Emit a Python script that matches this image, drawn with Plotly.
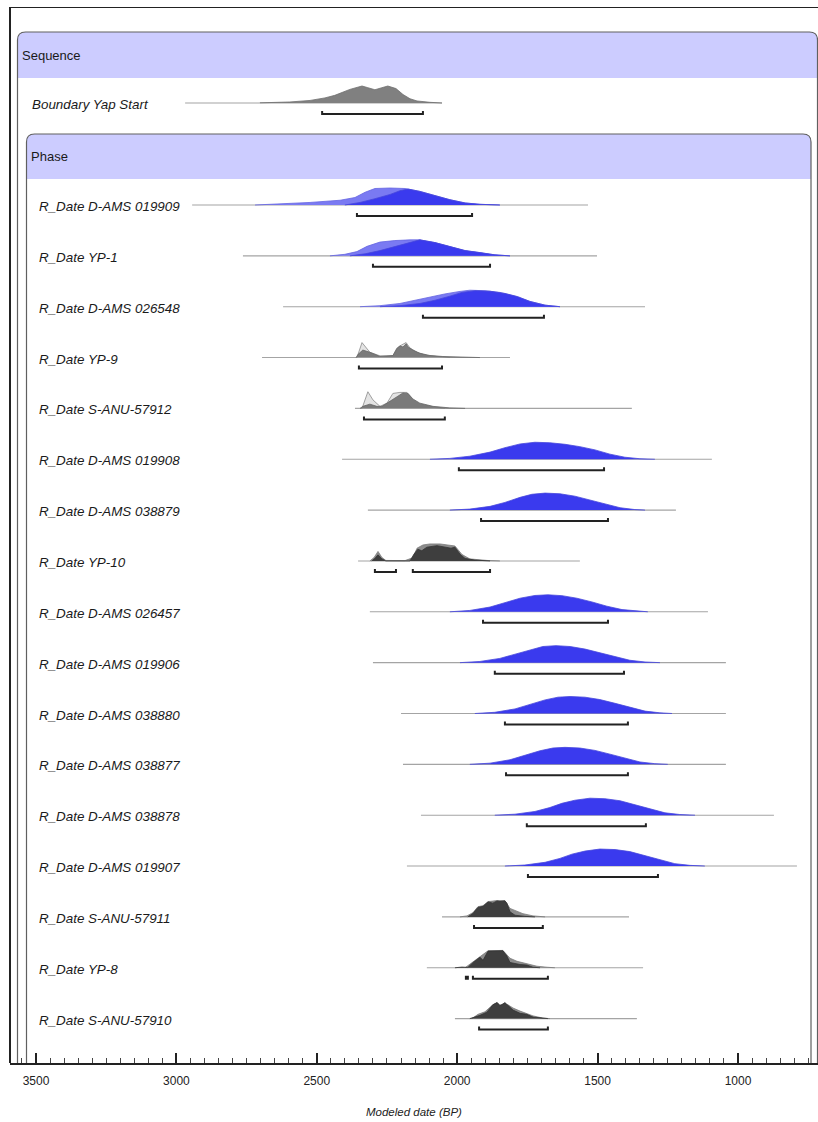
import plotly.graph_objects as go

# ---------------- data (years BP, relative probability) ----------------
labels = [
    "Boundary Yap Start",
    "R_Date D-AMS 019909", "R_Date YP-1", "R_Date D-AMS 026548", "R_Date YP-9",
    "R_Date S-ANU-57912", "R_Date D-AMS 019908", "R_Date D-AMS 038879", "R_Date YP-10",
    "R_Date D-AMS 026457", "R_Date D-AMS 019906", "R_Date D-AMS 038880", "R_Date D-AMS 038877",
    "R_Date D-AMS 038878", "R_Date D-AMS 019907", "R_Date S-ANU-57911", "R_Date YP-8",
    "R_Date S-ANU-57910",
]
kinds = ["boundary", "blue", "blue", "blue", "pale", "pale", "blue", "blue", "dark",
         "blue", "blue", "blue", "blue", "blue", "blue", "dark", "dark", "dark"]

tail_from = [2969, 2944, 2763, 2620, 2695, 2364, 2410, 2318, 2353,
             2311, 2300, 2200, 2193, 2129, 2179, 2054, 2108, 2008]
tail_to = [2054, 1534, 1502, 1331, 1812, 1378, 1093, 1221, 1563,
           1107, 1043, 1043, 1043, 872, 790, 1388, 1338, 1360]

# 95.4% ranges
ranges = [
    [(2481, 2122)], [(2357, 1947)], [(2300, 1883)], [(2122, 1691)], [(2350, 2054)],
    [(2332, 2044)], [(1994, 1477)], [(1915, 1463)], [(2293, 2218), (2158, 1883)],
    [(1908, 1463)], [(1866, 1406)], [(1830, 1392)], [(1826, 1392)], [(1752, 1328)],
    [(1748, 1285)], [(1940, 1695)], [(1969, 1962), (1944, 1677)], [(1922, 1677)],
]

# unmodelled likelihoods (None where not drawn)
unmod_years = [
    None,
    [2720, 2631, 2524, 2417, 2364, 2328, 2293, 2239, 2186, 2133, 2079, 2026, 1972, 1919, 1848],
    [2453, 2400, 2357, 2321, 2275, 2222, 2168, 2133, 2079, 2026, 1972, 1919, 1866, 1812],
    [2346, 2275, 2204, 2150, 2097, 2044, 1990, 1955, 1901, 1848, 1794, 1741, 1687, 1634],
    [2357, 2339, 2311, 2275, 2229, 2215, 2197, 2182, 2168, 2143, 2108, 2061, 2026],
    [2339, 2318, 2300, 2275, 2250, 2229, 2204, 2179, 2158, 2133, 2086, 2044],
    None, None,
    [2311, 2296, 2282, 2268, 2254, 2186, 2158, 2143, 2122, 2097, 2061, 2033, 2008, 1983, 1955, 1894, 1848],
    None, None, None, None, None, None,
    [1990, 1965, 1944, 1926, 1908, 1890, 1858, 1830, 1812, 1787, 1766, 1730, 1687],
    [1972, 1944, 1919, 1890, 1837, 1812, 1787, 1752, 1716, 1680, 1652],
    [1947, 1926, 1901, 1873, 1858, 1848, 1819, 1801, 1776, 1752, 1730, 1695, 1670],
]
unmod_prob = [
    None,
    [0, 0.06, 0.15, 0.28, 0.44, 0.75, 0.97, 1.0, 0.97, 0.8, 0.56, 0.31, 0.12, 0.04, 0],
    [0, 0.09, 0.25, 0.56, 0.81, 0.9, 0.94, 0.94, 0.78, 0.56, 0.31, 0.19, 0.06, 0],
    [0, 0.06, 0.19, 0.38, 0.59, 0.75, 0.9, 0.97, 0.94, 0.84, 0.62, 0.31, 0.09, 0],
    [0, 0.88, 0.31, 0.1, 0.1, 0.56, 0.75, 0.88, 0.56, 0.31, 0.12, 0.03, 0],
    [0, 0.98, 0.5, 0.12, 0.31, 0.88, 0.94, 0.94, 0.5, 0.25, 0.06, 0],
    None, None,
    [0, 0.2, 0.56, 0.2, 0.03, 0.02, 0.19, 0.75, 0.94, 1.0, 1.0, 0.94, 0.88, 0.38, 0.12, 0.03, 0],
    None, None, None, None, None, None,
    [0, 0.06, 0.25, 0.6, 0.66, 0.9, 0.96, 0.96, 0.5, 0.31, 0.19, 0.06, 0],
    [0, 0.35, 0.65, 1.0, 1.02, 0.56, 0.38, 0.25, 0.09, 0.03, 0],
    [0, 0.25, 0.4, 0.82, 0.94, 0.81, 0.81, 0.62, 0.44, 0.31, 0.16, 0.03, 0],
]

# modelled posteriors
mod_years = [
    [2702, 2596, 2524, 2471, 2436, 2382, 2339, 2318, 2293, 2268, 2247, 2218, 2193, 2168, 2143, 2097, 2054],
    [2400, 2346, 2293, 2239, 2204, 2175, 2133, 2079, 2026, 1972, 1919, 1848],
    [2382, 2328, 2275, 2222, 2168, 2133, 2079, 2026, 1972, 1919, 1866, 1812],
    [2275, 2204, 2133, 2079, 2026, 1983, 1937, 1883, 1830, 1784, 1741, 1687, 1634],
    [2360, 2353, 2336, 2311, 2275, 2229, 2215, 2204, 2193, 2182, 2175, 2158, 2133, 2097, 2051, 1965, 1919],
    [2346, 2336, 2311, 2286, 2268, 2239, 2215, 2193, 2175, 2158, 2133, 2086, 2026, 1972],
    [2097, 2026, 1955, 1883, 1830, 1776, 1723, 1670, 1616, 1563, 1509, 1456, 1403, 1349, 1296],
    [2026, 1955, 1883, 1830, 1776, 1734, 1687, 1634, 1581, 1527, 1474, 1420, 1367, 1331],
    [2304, 2293, 2282, 2268, 2254, 2168, 2154, 2140, 2126, 2108, 2072, 2036, 2022, 2008, 1990, 1972, 1937, 1883],
    [2026, 1955, 1883, 1830, 1776, 1723, 1677, 1627, 1574, 1520, 1467, 1413, 1360, 1321],
    [1990, 1919, 1848, 1794, 1741, 1695, 1648, 1598, 1545, 1492, 1438, 1385, 1331, 1278],
    [1937, 1866, 1794, 1741, 1687, 1641, 1598, 1545, 1492, 1438, 1385, 1331, 1278, 1235],
    [1955, 1883, 1812, 1759, 1705, 1659, 1616, 1563, 1509, 1456, 1403, 1349, 1296, 1250],
    [1866, 1794, 1723, 1670, 1627, 1581, 1527, 1474, 1420, 1367, 1314, 1260, 1207, 1153],
    [1830, 1759, 1687, 1634, 1591, 1545, 1492, 1438, 1385, 1331, 1278, 1225, 1171, 1118],
    [1962, 1944, 1926, 1908, 1890, 1873, 1858, 1848, 1830, 1823, 1812, 1794, 1759, 1723],
    [2008, 1983, 1962, 1944, 1919, 1908, 1890, 1858, 1837, 1823, 1812, 1776, 1752, 1730, 1705],
    [1955, 1926, 1919, 1894, 1873, 1858, 1848, 1830, 1819, 1801, 1776, 1752, 1730, 1705, 1677],
]
mod_prob = [
    [0.01, 0.06, 0.15, 0.3, 0.45, 0.8, 1.0, 0.9, 0.78, 0.9, 1.0, 0.85, 0.5, 0.25, 0.12, 0.04, 0],
    [0, 0.15, 0.37, 0.62, 0.84, 0.94, 0.8, 0.56, 0.31, 0.12, 0.04, 0],
    [0, 0.12, 0.31, 0.56, 0.81, 0.94, 0.78, 0.56, 0.31, 0.19, 0.06, 0],
    [0, 0.06, 0.19, 0.38, 0.62, 0.84, 0.94, 0.91, 0.78, 0.59, 0.31, 0.09, 0],
    [0, 0.19, 0.44, 0.31, 0.06, 0.12, 0.5, 0.69, 0.62, 0.81, 0.62, 0.44, 0.25, 0.12, 0.06, 0.02, 0],
    [0, 0.12, 0.25, 0.12, 0.12, 0.44, 0.69, 0.91, 0.88, 0.56, 0.31, 0.12, 0.03, 0],
    [0, 0.05, 0.18, 0.42, 0.68, 0.9, 1.0, 0.97, 0.88, 0.74, 0.55, 0.3, 0.12, 0.03, 0],
    [0, 0.06, 0.22, 0.45, 0.75, 0.93, 1.0, 0.96, 0.82, 0.6, 0.35, 0.14, 0.03, 0],
    [0, 0.15, 0.36, 0.12, 0, 0, 0.4, 0.69, 0.6, 0.81, 0.9, 0.81, 0.75, 0.81, 0.4, 0.15, 0.05, 0],
    [0, 0.08, 0.28, 0.52, 0.8, 0.96, 1.0, 0.95, 0.8, 0.58, 0.33, 0.13, 0.03, 0],
    [0, 0.07, 0.25, 0.5, 0.78, 0.95, 1.0, 0.95, 0.8, 0.58, 0.34, 0.14, 0.04, 0],
    [0, 0.07, 0.27, 0.52, 0.8, 0.96, 1.0, 0.96, 0.82, 0.6, 0.35, 0.14, 0.04, 0],
    [0, 0.07, 0.27, 0.52, 0.8, 0.96, 1.0, 0.96, 0.82, 0.6, 0.35, 0.14, 0.04, 0],
    [0, 0.06, 0.22, 0.45, 0.7, 0.88, 1.0, 0.97, 0.85, 0.62, 0.36, 0.14, 0.04, 0],
    [0, 0.06, 0.22, 0.45, 0.7, 0.88, 1.0, 0.97, 0.85, 0.62, 0.36, 0.14, 0.04, 0],
    [0, 0.2, 0.56, 0.62, 0.88, 0.81, 0.94, 0.9, 0.94, 0.81, 0.3, 0.1, 0.03, 0],
    [0, 0.04, 0.02, 0.3, 0.62, 0.44, 0.98, 1.0, 1.0, 0.69, 0.31, 0.19, 0.16, 0.03, 0],
    [0, 0.15, 0.19, 0.38, 0.81, 0.94, 0.75, 0.94, 0.75, 0.5, 0.31, 0.25, 0.09, 0.03, 0],
]

tick_step = 500
minor_step = 50
axis_title = "Modeled date (BP)"

# ---------------- layout geometry (pixels) ----------------
W, H = 818, 1122
PL, PR, PT, PB = 10, 0, 7, 59          # plot area margins
X_RANGE = [3592.6, 715]
AXIS_Y = H - PB                        # y data units are page pixels
PEAK_PX = 17                           # height of probability 1.0
BOUNDARY_BASE = 103
PHASE_BASE, ROW_STEP = 205, 50.85
FONT = "Liberation Sans, Arial"

def px(xpix):
    """page x pixel -> paper coordinate"""
    return (xpix - PL) / (W - PL - PR)

def base_of(i):
    return BOUNDARY_BASE if i == 0 else PHASE_BASE + (i - 1) * ROW_STEP

STYLE = {
    "boundary": dict(mod_fill="#808080", mod_line="#6e6e6e", un_fill=None, un_line=None),
    "blue": dict(mod_fill="rgb(58,58,238)", mod_line="rgb(70,70,220)",
                 un_fill="rgb(122,122,242)", un_line="rgb(100,100,225)"),
    "pale": dict(mod_fill="#7a7a7a", mod_line="#666666", un_fill="#e4e4e4", un_line="#8a8a8a"),
    "dark": dict(mod_fill="#3e3e3e", mod_line="#333333", un_fill="#8c8c8c", un_line="#7a7a7a"),
}

fig = go.Figure()

def area(xs, ps, base, fill, line):
    xx = [xs[0]] + list(xs) + [xs[-1]]
    yy = [base] + [base - p * PEAK_PX for p in ps] + [base]
    fig.add_trace(go.Scatter(x=xx, y=yy, mode="lines", fill="toself", fillcolor=fill,
                             line=dict(color=line, width=0.8), hoverinfo="skip",
                             showlegend=False))

for i, lab in enumerate(labels):
    b = base_of(i)
    st = STYLE[kinds[i]]
    # long tail of the distribution
    fig.add_trace(go.Scatter(x=[tail_from[i], tail_to[i]], y=[b, b], mode="lines",
                             line=dict(color="#a4a4a4", width=1.1), hoverinfo="skip",
                             showlegend=False))
    if unmod_years[i] is not None:
        area(unmod_years[i], unmod_prob[i], b, st["un_fill"], st["un_line"])
    area(mod_years[i], mod_prob[i], b, st["mod_fill"], st["mod_line"])
    # range brackets
    for (a, c) in ranges[i]:
        yb = b + 11
        fig.add_trace(go.Scatter(x=[a, a, c, c], y=[yb - 3, yb, yb, yb - 3], mode="lines",
                                 line=dict(color="#222222", width=2), hoverinfo="skip",
                                 showlegend=False))
    fig.add_annotation(x=px(29.5 if i == 0 else 36.5), y=b + 1.5, xref="paper", yref="y",
                       text=f"<i>{lab}</i>", showarrow=False, xanchor="left", yanchor="middle",
                       font=dict(family=FONT, size=13.4, color="#1a1a1a"))

# ---------------- group boxes ----------------
R = 8
shapes = []

def group_box(left, right, top, head_bottom, title, title_x):
    rx = R / (W - PL - PR)
    l, r = px(left), px(right)
    head = (f"M {l},{head_bottom} V {top + R} Q {l},{top} {l + rx},{top} "
            f"H {r - rx} Q {r},{top} {r},{top + R} V {head_bottom} Z")
    shapes.append(dict(type="path", path=head, xref="paper", yref="y",
                       fillcolor="#ccccff", line=dict(width=0), layer="below"))
    outline = (f"M {l},{AXIS_Y} V {top + R} Q {l},{top} {l + rx},{top} "
               f"H {r - rx} Q {r},{top} {r},{top + R} V {AXIS_Y}")
    shapes.append(dict(type="path", path=outline, xref="paper", yref="y",
                       line=dict(color="#606060", width=1.2), layer="above"))
    fig.add_annotation(x=px(title_x), y=(top + head_bottom) / 2, xref="paper", yref="y",
                       text=title, showarrow=False, xanchor="left", yanchor="middle",
                       font=dict(family=FONT, size=13, color="#1a1a1a"))

group_box(17.5, 817.5, 32, 78, "Sequence", 20)
group_box(26.5, 811, 134, 179, "Phase", 29)

# outer frame (top and left)
shapes.append(dict(type="line", xref="paper", yref="y", x0=0, x1=1, y0=PT, y1=PT,
                   line=dict(color="#222222", width=2)))
shapes.append(dict(type="line", xref="paper", yref="y", x0=0, x1=0, y0=PT, y1=AXIS_Y,
                   line=dict(color="#222222", width=2)))

fig.add_annotation(x=0.5, xref="paper", y=-0.046, yref="paper", text=f"<i>{axis_title}</i>",
                   showarrow=False, xanchor="center", yanchor="middle",
                   font=dict(family=FONT, size=11.5, color="#222222"))

fig.update_layout(
    width=W, height=H, margin=dict(l=PL, r=PR, t=PT, b=PB),
    paper_bgcolor="white", plot_bgcolor="white", shapes=shapes, showlegend=False,
    xaxis=dict(range=X_RANGE, dtick=tick_step, tick0=0, ticks="inside", ticklen=10,
               tickwidth=1.5, tickcolor="#222222", showline=True, linewidth=2,
               linecolor="#222222", showgrid=False, zeroline=False, mirror=False,
               ticklabelstandoff=6,
               tickfont=dict(family=FONT, size=12, color="#222222"),
               minor=dict(dtick=minor_step, tick0=0, ticks="inside", ticklen=5,
                          tickwidth=1, tickcolor="#444444", showgrid=False)),
    yaxis=dict(range=[AXIS_Y, PT], visible=False, showgrid=False, zeroline=False),
)

fig.write_html("out.html")
